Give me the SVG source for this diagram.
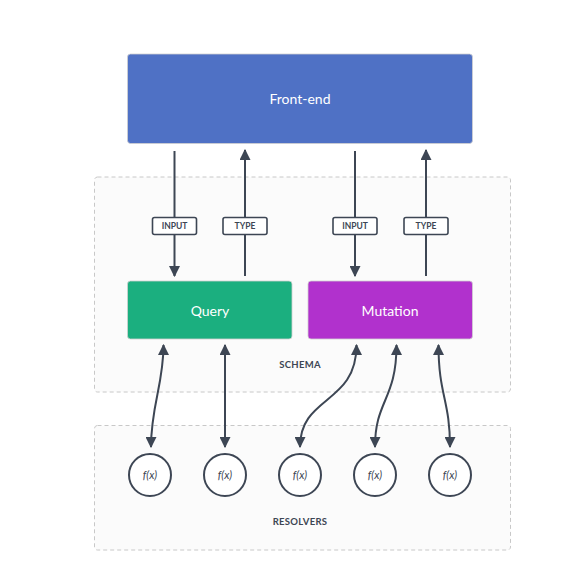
<svg xmlns="http://www.w3.org/2000/svg" width="577" height="588" viewBox="0 0 577 588">
<defs>
<style>
.grp{fill:#fbfbfb;stroke:#c8c8c8;stroke-width:1;stroke-dasharray:4 3}
.box{stroke:#d0d0d0;stroke-width:0.8}
.boxtxt{font-family:Lato,"Open Sans",sans-serif;font-size:14px;fill:#ffffff;text-anchor:middle}
.cap{font-family:Lato,"Open Sans",sans-serif;font-size:9.5px;font-weight:bold;fill:#3d4654;text-anchor:middle;letter-spacing:0.3px}
.lbl{fill:#ffffff;stroke:#3d4654;stroke-width:1.6}
.lbltxt{font-family:Lato,"Open Sans",sans-serif;font-size:8.5px;font-weight:bold;fill:#3d4654;text-anchor:middle}
.wire{fill:none;stroke:#3d4654;stroke-width:2}
.fn{fill:#ffffff;stroke:#3d4654;stroke-width:2}
.fntxt{font-family:Lato,"Open Sans",sans-serif;font-size:11px;font-style:italic;fill:#3d4654;text-anchor:middle}
</style>
<marker id="ah" viewBox="0 0 10 10" refX="9" refY="5" markerWidth="5.5" markerHeight="5.5" orient="auto-start-reverse" markerUnits="strokeWidth">
<path d="M0,0 L10,5 L0,10 z" fill="#3d4654"/>
</marker>
</defs>
<rect width="577" height="588" fill="#ffffff"/>
<g id="schema">
<rect class="grp" x="94.5" y="177" width="416" height="215" rx="3"/>
<text class="cap" x="300" y="368">SCHEMA</text>
</g>
<g id="resolvers">
<rect class="grp" x="94.5" y="425.5" width="416" height="124.5" rx="3"/>
<text class="cap" x="300" y="525">RESOLVERS</text>
</g>
<g id="frontend">
<rect class="box" x="127.5" y="54" width="345" height="89.5" rx="3" fill="#4f71c5"/>
<text class="boxtxt" x="300" y="104">Front-end</text>
</g>
<g id="query">
<rect class="box" x="127.5" y="281" width="164.5" height="58" rx="3" fill="#1baf7f"/>
<text class="boxtxt" x="210" y="316">Query</text>
</g>
<g id="mutation">
<rect class="box" x="308" y="281" width="164.5" height="58" rx="3" fill="#b131cd"/>
<text class="boxtxt" x="390" y="316">Mutation</text>
</g>
<g id="connectors">
<line class="wire" x1="174.5" y1="151" x2="174.5" y2="276" marker-end="url(#ah)"/>
<line class="wire" x1="245" y1="276" x2="245" y2="150" marker-end="url(#ah)"/>
<line class="wire" x1="355" y1="151" x2="355" y2="276" marker-end="url(#ah)"/>
<line class="wire" x1="426" y1="276" x2="426" y2="150" marker-end="url(#ah)"/>
<path class="wire" d="M163.5,345 C163.5,385 151,405 151,447" marker-start="url(#ah)" marker-end="url(#ah)"/>
<line class="wire" x1="225" y1="345" x2="225" y2="447" marker-start="url(#ah)" marker-end="url(#ah)"/>
<path class="wire" d="M356.5,345 C356.5,405 300,395 300,447" marker-start="url(#ah)" marker-end="url(#ah)"/>
<path class="wire" d="M396.5,345 C396.5,400 375,400 375,447" marker-start="url(#ah)" marker-end="url(#ah)"/>
<path class="wire" d="M438.5,345 C438.5,395 450,400 450,447" marker-start="url(#ah)" marker-end="url(#ah)"/>
</g>
<g id="label-input-1">
<rect class="lbl" x="152.5" y="217.5" width="44" height="17" rx="2"/>
<text class="lbltxt" x="174.5" y="229">INPUT</text>
</g>
<g id="label-type-1">
<rect class="lbl" x="223" y="217.5" width="44" height="17" rx="2"/>
<text class="lbltxt" x="245" y="229">TYPE</text>
</g>
<g id="label-input-2">
<rect class="lbl" x="333" y="217.5" width="44" height="17" rx="2"/>
<text class="lbltxt" x="355" y="229">INPUT</text>
</g>
<g id="label-type-2">
<rect class="lbl" x="404" y="217.5" width="44" height="17" rx="2"/>
<text class="lbltxt" x="426" y="229">TYPE</text>
</g>
<g id="fn1"><circle class="fn" cx="150" cy="475" r="21"/><text class="fntxt" x="150" y="479">f(x)</text></g>
<g id="fn2"><circle class="fn" cx="225" cy="475" r="21"/><text class="fntxt" x="225" y="479">f(x)</text></g>
<g id="fn3"><circle class="fn" cx="300" cy="475" r="21"/><text class="fntxt" x="300" y="479">f(x)</text></g>
<g id="fn4"><circle class="fn" cx="375" cy="475" r="21"/><text class="fntxt" x="375" y="479">f(x)</text></g>
<g id="fn5"><circle class="fn" cx="450" cy="475" r="21"/><text class="fntxt" x="450" y="479">f(x)</text></g>
</svg>
